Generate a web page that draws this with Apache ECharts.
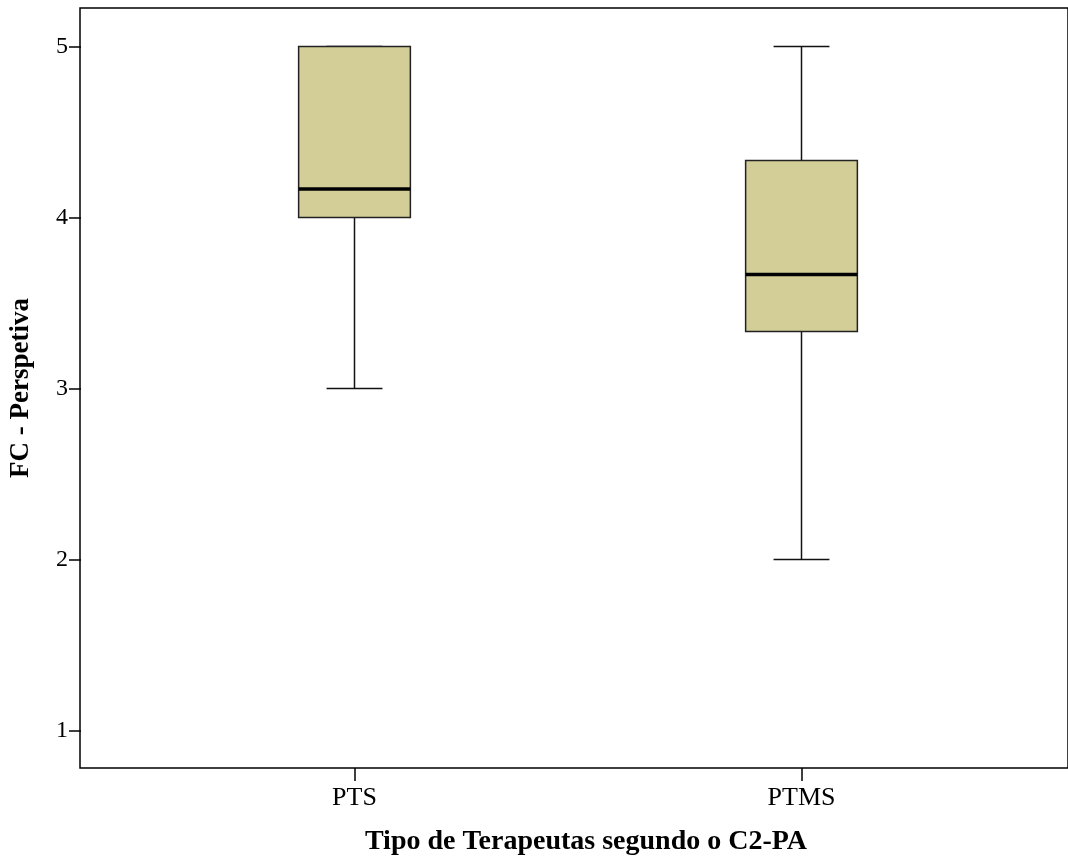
<!DOCTYPE html>
<html>
<head>
<meta charset="utf-8">
<script src="https://cdn.jsdelivr.net/npm/echarts@6/dist/echarts.min.js"></script>
<style>
  html, body { margin: 0; padding: 0; background: #fff; }
  #chart { width: 1068px; height: 861px; }
</style>
</head>
<body>
<div id="chart"></div>
<script>
// values
const categories = ['PTS', 'PTMS'];
const minVals = [3, 2];
const q1Vals = [4, 3.333];
const medianVals = [4.167, 3.667];
const q3Vals = [5, 4.333];
const maxVals = [5, 5];
const yTicks = [1, 2, 3, 4, 5];

const boxData = categories.map((c, i) => [i, minVals[i], q1Vals[i], medianVals[i], q3Vals[i], maxVals[i]]);

const serif = '"Liberation Serif", "Times New Roman", serif';

function renderBox(params, api) {
    const i = api.value(0);
    const band = api.size([1, 0])[0];
    const half = band * 0.125;
    const capHalf = band * 0.0625;
    const pMin = api.coord([i, api.value(1)]);
    const pQ1 = api.coord([i, api.value(2)]);
    const pMed = api.coord([i, api.value(3)]);
    const pQ3 = api.coord([i, api.value(4)]);
    const pMax = api.coord([i, api.value(5)]);
    const cx = pMed[0];
    const thin = { stroke: '#111', lineWidth: 1.5 };
    return {
        type: 'group',
        children: [
            { type: 'line', shape: { x1: cx, y1: pQ1[1], x2: cx, y2: pMin[1] }, style: thin },
            { type: 'line', shape: { x1: cx - capHalf, y1: pMin[1], x2: cx + capHalf, y2: pMin[1] }, style: thin },
            { type: 'line', shape: { x1: cx, y1: pQ3[1], x2: cx, y2: pMax[1] }, style: thin },
            { type: 'line', shape: { x1: cx - capHalf, y1: pMax[1], x2: cx + capHalf, y2: pMax[1] }, style: thin },
            {
                type: 'rect',
                shape: { x: cx - half, y: pQ3[1], width: half * 2, height: pQ1[1] - pQ3[1] },
                style: { fill: '#d3ce98', stroke: '#222', lineWidth: 1.5 }
            },
            { type: 'line', shape: { x1: cx - half, y1: pMed[1], x2: cx + half, y2: pMed[1] }, style: { stroke: '#000', lineWidth: 3.5 } }
        ]
    };
}

const chart = echarts.init(document.getElementById('chart'));
chart.setOption({
    animation: false,
    backgroundColor: '#fff',
    grid: [
        { left: 130, right: 43, top: 8, bottom: 93 },
        { left: 80, right: -4, top: 8, bottom: 93, show: true, borderColor: '#000', borderWidth: 1.5, backgroundColor: 'transparent' }
    ],
    xAxis: [{
        gridIndex: 0,
        type: 'category',
        data: categories,
        boundaryGap: true,
        axisLine: { show: false },
        axisTick: { show: true, alignWithLabel: true, length: 13, lineStyle: { color: '#000', width: 1.5 } },
        axisLabel: { color: '#000', fontFamily: serif, fontSize: 26, margin: 17 },
        name: 'Tipo de Terapeutas segundo o C2-PA',
        nameLocation: 'middle',
        nameGap: 60,
        nameTextStyle: { color: '#000', fontFamily: serif, fontWeight: 'bold', fontSize: 28, padding: [0, 0, 0, 16] }
    }, {
        gridIndex: 1, type: 'value', show: false
    }],
    yAxis: [{
        gridIndex: 0,
        type: 'value',
        min: 0.78,
        max: 5.225,
        offset: 50,
        splitLine: { show: false },
        axisLine: { show: false },
        axisTick: { show: true, length: 12, customValues: yTicks, lineStyle: { color: '#000', width: 1.5 } },
        axisLabel: { color: '#000', fontFamily: serif, fontSize: 24, margin: 13, customValues: yTicks },
        name: 'FC - Perspetiva',
        nameLocation: 'middle',
        nameRotate: 90,
        nameGap: 46,
        nameTextStyle: { color: '#000', fontFamily: serif, fontWeight: 'bold', fontSize: 27 }
    }, {
        gridIndex: 1, type: 'value', show: false
    }],
    series: [{
        type: 'custom',
        xAxisIndex: 0,
        yAxisIndex: 0,
        renderItem: renderBox,
        encode: { x: 0, y: [1, 2, 3, 4, 5] },
        data: boxData,
        z: 5
    }]
});
</script>
</body>
</html>
